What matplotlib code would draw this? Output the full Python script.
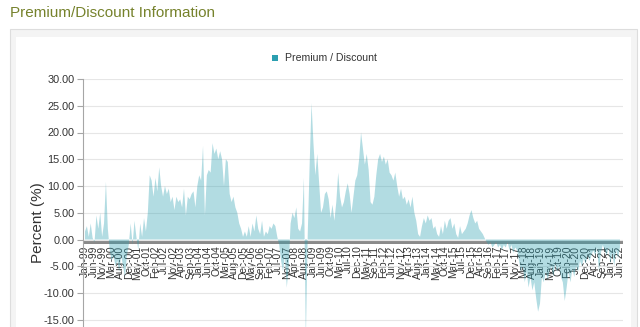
import numpy as np
import pandas as pd
import matplotlib
matplotlib.use("Agg")
import matplotlib.pyplot as plt
from matplotlib.patches import Rectangle

# monthly premium / discount (%), Jan-99 .. Jun-22
values_1999_2003 = [
    1.5, 2.5, 0.5, 3.0, 0.3, -0.5, 4.5, 2.0, 5.0, 0.5, 3.0, 10.8,
    2.0, -2, -4, -3, -5, -4, -6, -3, -5, -7, -3, -1,
    3, -1, 3.5, 0.5, -2, 3, 0.5, 4, 1.5, 5, 12, 11,
    8, 11.5, 9, 13.5, 10, 8, 10, 8.5, 9.5, 7, 8, 5.5,
    8, 7, 7.5, 6, 9.5, 4.5, 8, 7.5, 8.5, 9, 6, 10,
]
values_2004_2008 = [
    12, 11, 17.5, 4.5, 12, 13, 12.5, 18, 16, 17, 15, 16.5,
    15, 10, 15, 14.5, 8.5, 7, 8, 6, 5, 3, 2, 0.5,
    1.5, 0.5, 2.5, 0.5, 3, 1.5, 4.5, 2, 1, 3.5, 0.5, 1.5,
    1, 2.5, 2, 3, 2.5, 0.5, -1, -4, -6, -3, -9, -5,
    3, 5, 4, 6, 2, 1.5, 3, 11.5, -19, 1, 14, 25.5,
]
values_2009_2013 = [
    18, 12, 16, 10.5, 5, 6, 8.5, 9, 7.5, 4, 6.5, 3.5,
    7, 12.5, 8, 6, 7, 9, 10.5, 8.5, 5, 8, 11, 12,
    15, 20, 17, 14, 16, 13, 7, 6.5, 8, 12, 15, 16,
    14.5, 15.5, 14, 15, 12.5, 12, 11, 12.5, 10, 8, 9.5, 7.5,
    8, 6.5, 7.5, 6, 8, 5, 3.5, 1, 0.5, 2.5, 4, 3,
]
values_2014_2018 = [
    4.5, 3.5, 4, 2, 2.5, 1, 0.5, 2.5, 1, 3.5, 2, 3.5,
    4, 2, 3, 1, 0.3, 2.5, 1, 1.5, 2, 3, 4.5, 5.5,
    4, 3, 3.5, 2, 1.5, 1, 0.2, -0.5, -1, -0.5, -1.5, -1,
    -0.5, -1.5, -1, -2, -1, -1.5, -0.5, -2, -1, -2.5, -1.5, -2,
    -4, -6, -5, -8, -6, -9, -7, -9.5, -8, -11, -13.5, -12,
]
values_2019_2022 = [
    -7, -8, -6, -7.5, -6, -5, -7, -4.5, -6, -5, -7, -8,
    -11.5, -9, -6, -8, -5.5, -7, -5, -6, -4, -5, -3.5, -4.5,
    -3, -4, -3, -2, -3, -1.5, -6, -2.5, -1, -2, -3, -1.5,
    -4.5, -2.5, -5, -2, -3.5, -1.5,
]

tick_labels = [
    "Jan-99", "Jun-99", "Nov-99", "Mar-00", "Aug-00", "Dec-00", "May-01", "Oct-01",
    "Feb-02", "Jul-02", "Nov-02", "Apr-03", "Sep-03", "Jan-04", "Jun-04", "Oct-04",
    "Mar-05", "Aug-05", "Dec-05", "May-06", "Sep-06", "Feb-07", "Jul-07", "Nov-07",
    "Apr-08", "Aug-08", "Jan-09", "Jun-09", "Oct-09", "Mar-10", "Jul-10", "Dec-10",
    "May-11", "Sep-11", "Feb-12", "Jun-12", "Nov-12", "Apr-13", "Aug-13", "Jan-14",
    "May-14", "Oct-14", "Mar-15", "Jul-15", "Dec-15", "Apr-16", "Sep-16", "Feb-17",
    "Jun-17", "Nov-17", "Mar-18", "Aug-18", "Jan-19", "May-19", "Oct-19", "Feb-20",
    "Jul-20", "Dec-20", "Apr-21", "Sep-21", "Jan-22", "Jun-22",
]

y_ticks = [-15, -10, -5, 0, 5, 10, 15, 20, 25, 30]
y_grid = [-20]  # gridline below the visible area

values = np.array(values_1999_2003 + values_2004_2008 + values_2009_2013
                  + values_2014_2018 + values_2019_2022, dtype=float)
months = np.arange(len(values))

# the source uses a category axis: labels sit at an even step between the
# first and last labelled month
tick_dates = pd.to_datetime(tick_labels, format="%b-%y")
month_idx = (tick_dates.year - 1999) * 12 + tick_dates.month - 1
tick_pos = np.linspace(month_idx[0], month_idx[-1], len(tick_labels))

plt.rcParams["font.family"] = ["Liberation Sans", "DejaVu Sans"]

W, H = 640, 327
fig = plt.figure(figsize=(W / 100, H / 100), dpi=100)
fig.patch.set_facecolor("white")


def px_rect(x0, y0, x1, y1, **kw):
    # rectangle in pixel coords (origin top-left), drawn behind the axes
    fig.patches.append(Rectangle((x0 / W, 1 - y1 / H), (x1 - x0) / W, (y1 - y0) / H,
                                 transform=fig.transFigure, figure=fig, zorder=-5, **kw))


# panel frame
px_rect(10, 29, 637, 340, facecolor="#f4f4f4", edgecolor="#dddddd", linewidth=0.8)
px_rect(16, 37, 631, 340, facecolor="white", edgecolor="none")

fig.text(10 / W, 1 - 13 / H, "Premium/Discount Information", fontsize=11,
         color="#76822c", va="center", ha="left")

# legend
px_rect(272, 55, 278, 61, facecolor="#2b9fb0", edgecolor="none")
fig.text(285 / W, 1 - 58 / H, "Premium / Discount", fontsize=7.6,
         color="#333333", va="center", ha="left")

# axes: y=30 at 79px, y=-20 at ~346px (below the image edge)
ax = fig.add_axes([83 / W, (H - 346.5) / H, 540 / W, (346.5 - 79) / H])
ax.set_facecolor("none")

# spine position first: moving it resets the tick settings
ax.spines["bottom"].set_position(("data", -0.75))
ax.spines["bottom"].set_visible(False)
ax.spines["top"].set_visible(False)
ax.spines["right"].set_visible(False)
ax.spines["left"].set_color("#a6a6a6")

ax.set_ylim(-20, 30)
ax.set_xlim(-1.05, len(values) - 1 + 1.6)

ax.set_yticks(y_ticks)
ax.set_yticklabels([f"{v:.2f}" for v in y_ticks])
ax.grid(axis="y", color="#e6e6e6", linewidth=0.8, zorder=0)
for g in y_grid:
    ax.axhline(g, color="#e6e6e6", linewidth=0.8, zorder=0)

ax.axhspan(-0.75, 0, facecolor="#8a8a8a", edgecolor="none", zorder=1)
ax.fill_between(months, values, 0, facecolor="#2b9fb0", alpha=0.36,
                linewidth=0, zorder=2)

ax.set_xticks(tick_pos)
ax.set_xticklabels(tick_labels)
ax.tick_params(axis="x", length=0, pad=1.5, labelrotation=90, labelsize=7.4,
               labelcolor="#333333")
ax.tick_params(axis="y", length=4, color="#a6a6a6", labelsize=7.8,
               labelcolor="#333333", pad=2)

fig.text(38 / W, 1 - 223 / H, "Percent (%)", rotation=90, fontsize=11,
         color="#333333", va="center", ha="center")

fig.savefig("out.png", dpi=100)
